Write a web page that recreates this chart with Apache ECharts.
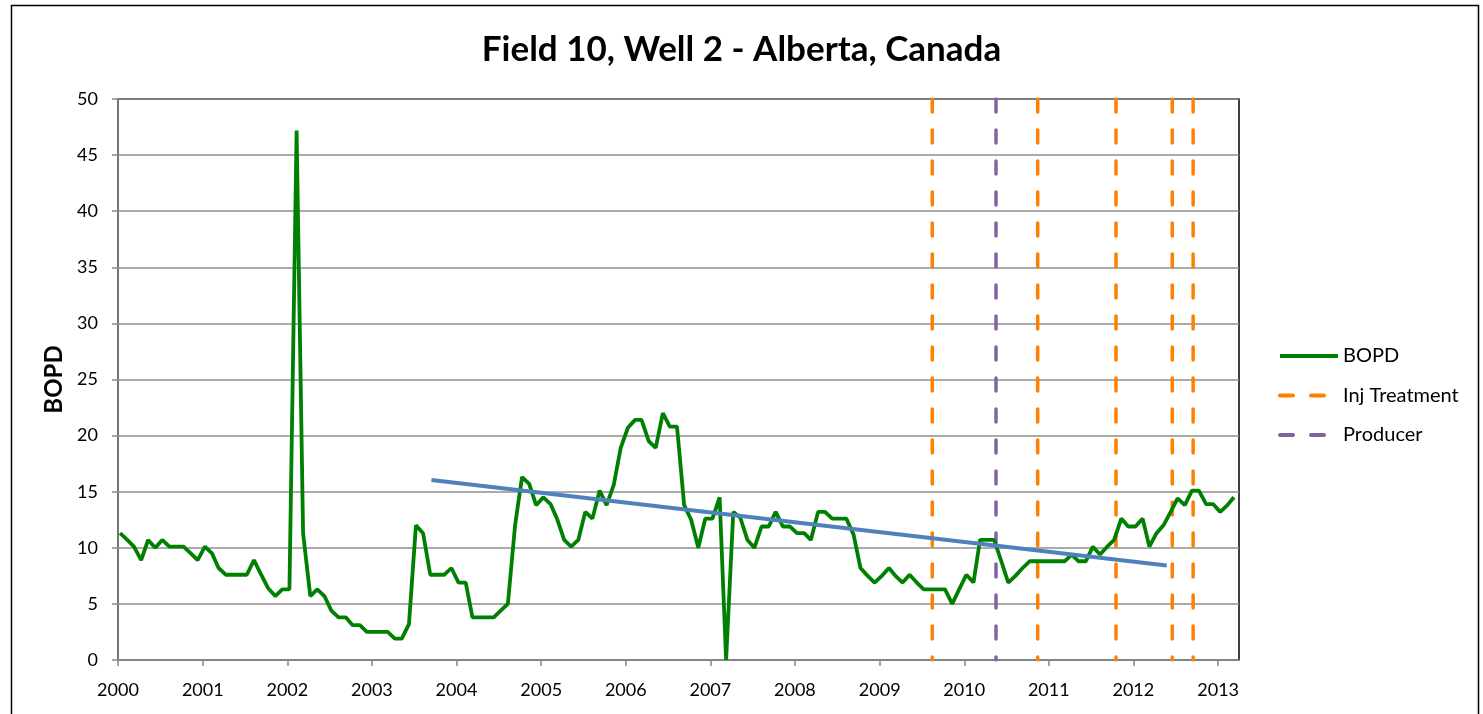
<!DOCTYPE html>
<html>
<head>
<meta charset="utf-8">
<script src="https://cdn.jsdelivr.net/npm/echarts@6/dist/echarts.min.js"></script>
<style>
  html, body { margin: 0; padding: 0; background: #fff; }
  #chart { width: 1483px; height: 714px; }
</style>
</head>
<body>
<div id="chart"></div>
<script>
// monthly production, Jan 2000 .. Mar 2013
var startYear = 2000
var bopd = [
  11.3, 10.7, 10.1, 8.9, 10.7, 10.0, 10.7, 10.1, 10.1, 10.1, 9.5, 8.9,
  10.1, 9.5, 8.2, 7.6, 7.6, 7.6, 7.6, 8.9, 7.6, 6.4, 5.7, 6.3,
  6.3, 47.2, 11.3, 5.7, 6.3, 5.7, 4.4, 3.8, 3.8, 3.1, 3.1, 2.5,
  2.5, 2.5, 2.5, 1.9, 1.9, 3.2, 12.0, 11.3, 7.6, 7.6, 7.6, 8.2,
  6.9, 6.9, 3.8, 3.8, 3.8, 3.8, 4.4, 5.0, 12.0, 16.3, 15.7, 13.8,
  14.5, 13.9, 12.6, 10.7, 10.1, 10.7, 13.2, 12.6, 15.1, 13.8, 15.6, 18.9,
  20.7, 21.4, 21.4, 19.5, 18.9, 22.0, 20.8, 20.8, 13.8, 12.5, 10.0, 12.6,
  12.6, 14.5, 0, 13.2, 12.7, 10.7, 10.0, 11.9, 11.9, 13.2, 11.9, 11.9,
  11.3, 11.3, 10.7, 13.2, 13.2, 12.6, 12.6, 12.6, 11.2, 8.2, 7.5, 6.9,
  7.5, 8.2, 7.5, 6.9, 7.6, 6.9, 6.3, 6.3, 6.3, 6.3, 5.0, 6.3,
  7.6, 6.9, 10.7, 10.7, 10.7, 8.8, 6.9, 7.5, 8.2, 8.8, 8.8, 8.8,
  8.8, 8.8, 8.8, 9.4, 8.8, 8.8, 10.1, 9.4, 10.1, 10.7, 12.6, 11.9,
  11.9, 12.6, 10.1, 11.3, 12.0, 13.2, 14.4, 13.8, 15.1, 15.1, 13.9, 13.9,
  13.2, 13.8, 14.5
]

// treatment / producer event dates (vertical markers)
var injDates = ['2009-08-16', '2010-11-14', '2011-10-18', '2012-06-17', '2012-09-15']
var producerDates = ['2010-05-18']

// linear trend endpoints
var trendDates = ['2003-09-15', '2012-05-24']
var trendValues = [16.05, 8.42]

var yearTicks = ['2000','2001','2002','2003','2004','2005','2006','2007','2008','2009','2010','2011','2012','2013']

function pad(n) { return n < 10 ? '0' + n : '' + n }

// build [date, value] pairs for the monthly series
var bopdData = bopd.map(function (v, i) {
  var y = startYear + Math.floor(i / 12)
  var m = (i % 12) + 1
  return [y + '-' + pad(m) + '-10', v]
})

// vertical lines from top to bottom, broken between events
function verticals(dates) {
  var out = []
  dates.forEach(function (d) {
    out.push([d, 50], [d, 0], [d, '-'])
  })
  return out
}

var font = 'Lato, "Open Sans", sans-serif'
var myChart = echarts.init(document.getElementById('chart'))

myChart.setOption({
  animation: false,
  title: {
    text: 'Field 10, Well 2 - Alberta, Canada',
    left: 'center',
    top: 27,
    textStyle: { fontFamily: font, fontSize: 35, fontWeight: 'bold', color: '#000' }
  },
  graphic: [{
    type: 'rect',
    shape: { x: 11.5, y: 5.5, width: 1467, height: 740 },
    style: { fill: null, stroke: '#000', lineWidth: 1.5 },
    silent: true
  }],
  legend: {
    orient: 'vertical',
    left: 1273,
    top: 341,
    itemWidth: 58,
    itemHeight: 14,
    itemGap: 19.5,
    itemStyle: { opacity: 0 },
    lineStyle: { width: 4 },
    textStyle: { fontFamily: font, fontSize: 20, color: '#000' },
    data: ['BOPD', 'Inj Treatment', 'Producer']
  },
  grid: {
    left: 118,
    right: 244,
    top: 99,
    bottom: 54,
    show: true,
    borderColor: '#000',
    borderWidth: 1.5
  },
  xAxis: {
    type: 'time',
    min: '2000-01-01',
    max: '2013-04-01',
    minInterval: 365 * 24 * 3600 * 1000,
    maxInterval: 366 * 24 * 3600 * 1000,
    splitLine: { show: false },
    axisLine: { lineStyle: { color: '#878787', width: 1.5 } },
    axisTick: { show: true, length: 6, lineStyle: { color: '#878787', width: 1.5 } },
    axisLabel: {
      fontFamily: font,
      fontSize: 18,
      color: '#000',
      margin: 21,
      showMaxLabel: false,
      formatter: function (val) {
        var y = new Date(val).getFullYear() + ''
        return yearTicks.indexOf(y) >= 0 ? y : ''
      }
    }
  },
  yAxis: {
    type: 'value',
    min: 0,
    max: 50,
    interval: 5,
    name: 'BOPD',
    nameLocation: 'middle',
    nameGap: 52,
    nameTextStyle: { fontFamily: font, fontSize: 24, fontWeight: 'bold', color: '#000' },
    axisLine: { show: true, lineStyle: { color: '#878787', width: 1.5 } },
    axisTick: { show: true, length: 6, lineStyle: { color: '#878787', width: 1.5 } },
    splitLine: { lineStyle: { color: '#8f8f8f', width: 1.5 } },
    axisLabel: { fontFamily: font, fontSize: 18, color: '#000', margin: 20 }
  },
  series: [
    {
      name: 'BOPD',
      type: 'line',
      data: bopdData,
      symbol: 'none',
      lineStyle: { color: '#008000', width: 3.8 },
      itemStyle: { color: '#008000' },
      z: 4
    },
    {
      name: 'Inj Treatment',
      type: 'line',
      data: verticals(injDates),
      symbol: 'none',
      connectNulls: false,
      lineStyle: { color: '#FF8000', width: 3.5, type: [13, 18], cap: 'round' },
      itemStyle: { color: '#FF8000' },
      z: 3
    },
    {
      name: 'Producer',
      type: 'line',
      data: verticals(producerDates),
      symbol: 'none',
      connectNulls: false,
      lineStyle: { color: '#8064A2', width: 3.5, type: [13, 18], cap: 'round' },
      itemStyle: { color: '#8064A2' },
      z: 3
    },
    {
      name: 'Trend',
      type: 'line',
      data: trendDates.map(function (d, i) { return [d, trendValues[i]] }),
      symbol: 'none',
      lineStyle: { color: '#4F81BD', width: 4 },
      itemStyle: { color: '#4F81BD' },
      z: 5
    }
  ]
})
</script>
</body>
</html>
